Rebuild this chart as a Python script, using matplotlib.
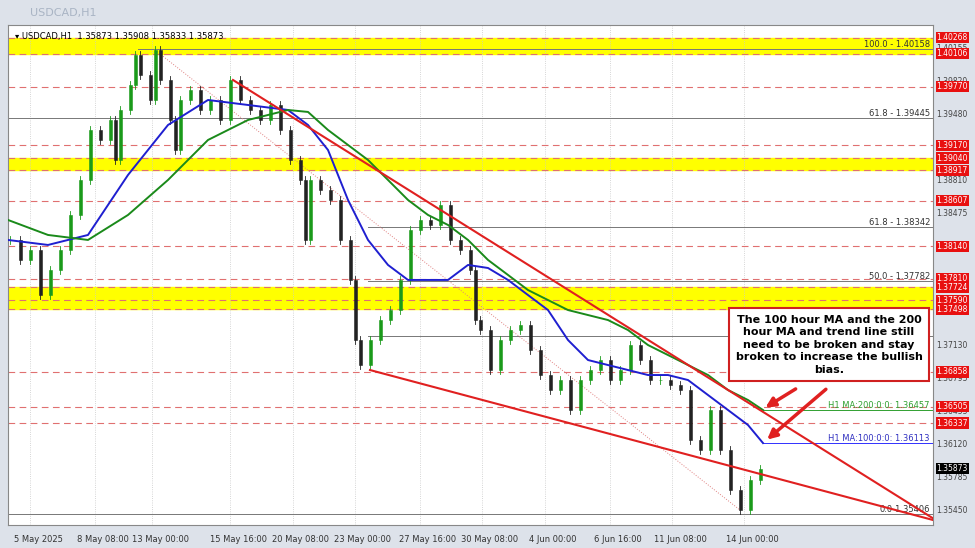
import matplotlib.pyplot as plt
import matplotlib.transforms as mtransforms
from matplotlib.patches import Rectangle, FancyArrowPatch

# hourly bar index (one pixel per hour) and price readings every 10 bars
bar_x = [2, 12, 22, 32, 42, 52, 62, 72, 82, 92, 102, 107, 112, 122, 127, 132, 142, 147, 152,
         162, 167, 172, 182, 192, 202, 212, 222, 232, 242, 252, 262, 272, 282, 292, 297, 302,
         312, 322, 332, 342, 347, 352, 362, 372, 382, 392, 402, 412, 422, 432, 442, 452, 462,
         467, 472, 482, 492, 502, 512, 522, 532, 542, 552, 562, 572, 582, 592, 602, 612, 622,
         632, 642, 652, 662, 672, 682, 692, 702, 712, 722, 732, 742, 752]
closes = [1.38205, 1.38001, 1.38103, 1.37643, 1.37899, 1.38103, 1.38460, 1.38817, 1.39327,
          1.39225, 1.39429, 1.39021, 1.39531, 1.39786, 1.40092, 1.39888, 1.39633, 1.40143,
          1.39837, 1.39429, 1.39123, 1.39633, 1.39735, 1.39531, 1.39633, 1.39429, 1.39837,
          1.39633, 1.39531, 1.39429, 1.39582, 1.39327, 1.39021, 1.38817, 1.38205, 1.38817,
          1.38715, 1.38613, 1.38205, 1.37797, 1.37184, 1.36929, 1.37184, 1.37388, 1.37490,
          1.37797, 1.38307, 1.38409, 1.38358, 1.38562, 1.38205, 1.38103, 1.37899, 1.37388,
          1.37286, 1.36878, 1.37184, 1.37286, 1.37337, 1.37082, 1.36827, 1.36674, 1.36776,
          1.36470, 1.36776, 1.36878, 1.36980, 1.36776, 1.36878, 1.37133, 1.36980, 1.36776,
          1.36776, 1.36725, 1.36674, 1.36164, 1.36062, 1.36470, 1.36062, 1.35654, 1.35450,
          1.35756, 1.35873]

ma_x = [0, 40, 80, 120, 160, 200, 240, 280, 300, 320, 340, 360, 380, 400, 440, 460, 480,
        500, 520, 540, 560, 580, 600, 620, 640, 660, 680, 700, 720, 740, 755]
ma100 = [1.38205, 1.38154, 1.38256, 1.38868, 1.39378, 1.39633, 1.39582, 1.39531, 1.39378,
         1.39123, 1.38613, 1.38205, 1.37950, 1.37797, 1.37797, 1.37950, 1.37919, 1.37797,
         1.37643, 1.37490, 1.37184, 1.36980, 1.36929, 1.36878, 1.36827, 1.36827, 1.36776,
         1.36623, 1.36470, 1.36317, 1.36133]
ma200_x = [0, 40, 80, 120, 160, 200, 240, 280, 300, 320, 340, 360, 380, 400, 420, 440, 460,
           480, 500, 520, 540, 560, 580, 600, 620, 640, 660, 680, 700, 720, 740, 755]
ma200 = [1.38409, 1.38256, 1.38205, 1.38460, 1.38817, 1.39225, 1.39429, 1.39531, 1.39511,
         1.39327, 1.39174, 1.39021, 1.38817, 1.38613, 1.38460, 1.38358, 1.38205, 1.38001,
         1.37848, 1.37694, 1.37592, 1.37490, 1.37439, 1.37388, 1.37286, 1.37133, 1.37031,
         1.36929, 1.36827, 1.36674, 1.36572, 1.36470]

red_levels = [1.40268, 1.40106, 1.39770, 1.39170, 1.39040, 1.38917, 1.38607, 1.38140,
              1.37810, 1.37724, 1.37590, 1.37498, 1.36858, 1.36505, 1.36337]
yellow_bands = [(1.40106, 1.40268), (1.38917, 1.39040), (1.37498, 1.37724)]
fib_levels = [1.40158, 1.39445, 1.38342, 1.37782, 1.37221, 1.35406]
fib_labels = ['100.0 - 1.40158', '61.8 - 1.39445', '61.8 - 1.38342', '50.0 - 1.37782',
              '7221', '0.0-1.35406']
fib_start = [130, 0, 360, 360, 360, 0]
grey_ticks = [1.40155, 1.39820, 1.39480, 1.38810, 1.38475, 1.37130, 1.36795, 1.36455,
              1.36120, 1.35785, 1.35450]
date_pos = [22, 87, 144, 222, 285, 347, 412, 474, 537, 602, 664, 736]
date_labels = ['5 May 2025', '8 May 08:00', '13 May 00:00', '15 May 16:00', '20 May 08:00',
               '23 May 00:00', '27 May 16:00', '30 May 08:00', '4 Jun 00:00', '6 Jun 16:00',
               '11 Jun 08:00', '14 Jun 00:00']
last_price = 1.35873

fig = plt.figure(figsize=(9.75, 5.48), dpi=100, facecolor='#dde2ea')
W, H = 975, 548
ax = fig.add_axes([8 / W, 1 - 525 / H, 925 / W, 500 / H])
ax.set_facecolor('white')
ax.set_xlim(0, 925)
ax.set_ylim(1.35297, 1.40398)
ax.set_xticks([])
ax.set_yticks([])
for s in ax.spines.values():
    s.set_color('#888888')
    s.set_linewidth(0.8)

# title bar and header
fig.text(30 / W, 1 - 13 / H, 'USDCAD,H1', fontsize=8, color='#a9b4c4', va='center')
ax.text(0.008, 0.985, '▾ USDCAD,H1  1.35873 1.35908 1.35833 1.35873', transform=ax.transAxes,
        fontsize=6, va='top', color='black')

for lo, hi in yellow_bands:
    ax.axhspan(lo, hi, color='#ffff00', zorder=0)
for lv in red_levels:
    ax.axhline(lv, color='#e07070', lw=0.8, ls=(0, (6, 4)), zorder=1)
for lv, lab, x0 in zip(fib_levels, fib_labels, fib_start):
    ax.plot([x0, 925], [lv, lv], color='#777777', lw=0.7, zorder=1)
    ax.text(922, lv, lab, fontsize=6, ha='right', va='bottom', color='#333333')
for p in date_pos:
    ax.axvline(p, color='#c8c8c8', lw=0.6, ls=':', zorder=0)

# candles
prev = closes[0]
for x, c in zip(bar_x, closes):
    col = '#1a9a1a' if c >= prev else '#222222'
    lo, hi = min(prev, c), max(prev, c)
    ax.plot([x, x], [lo - 0.0004, hi + 0.0004], color=col, lw=0.6, zorder=2)
    ax.add_patch(Rectangle((x - 1.5, lo), 3, max(hi - lo, 0.00003), facecolor=col,
                           edgecolor=col, lw=0.4, zorder=2))
    prev = c

ax.plot(ma_x, ma100, color='#1f1fd0', lw=1.4, zorder=3)
ax.plot(ma200_x, ma200, color='#1a8a1a', lw=1.4, zorder=3)
ax.plot([755, 925], [ma100[-1]] * 2, color='#3030ff', lw=0.7)
ax.plot([755, 925], [ma200[-1]] * 2, color='#30a030', lw=0.7)
ax.text(922, ma100[-1], 'H1 MA:100:0:0: 1.36113', fontsize=6, ha='right', va='bottom',
        color='#3030c0')
ax.text(922, ma200[-1], 'H1 MA:200:0:0: 1.36457', fontsize=6, ha='right', va='bottom',
        color='#30a030')

# trend lines
ax.plot([225, 925], [1.39837, 1.35365], color='#e02020', lw=1.5, zorder=4)
ax.plot([362, 925], [1.36878, 1.35348], color='#e02020', lw=1.5, zorder=4)
ax.plot([147, 732], [1.40143, 1.35450], color='#e08080', lw=0.7, ls=':', zorder=1)

# annotation
ax.text(821, 1.37135, 'The 100 hour MA and the 200\nhour MA and trend line still\n'
        'need to be broken and stay\nbroken to increase the bullish\nbias.',
        fontsize=8, fontweight='bold', ha='center', va='center', linespacing=1.3, zorder=6,
        bbox=dict(boxstyle='square,pad=0.6', facecolor='white', edgecolor='#d02020', lw=1.5))
for start, end in [((790, 1.36700), (755, 1.36480)), ((820, 1.36700), (757, 1.36150))]:
    ax.add_patch(FancyArrowPatch(start, end, arrowstyle='-|>', mutation_scale=14,
                                 color='#e02020', lw=2.5, zorder=6))

# right price scale
tr = mtransforms.blended_transform_factory(ax.transAxes, ax.transData)
for lv in grey_ticks:
    ax.text(1.004, lv, f'{lv:.5f}', transform=tr, fontsize=5.5, va='center', color='#444444',
            clip_on=False)
for lv in red_levels:
    ax.text(1.004, lv, f'{lv:.5f}', transform=tr, fontsize=5.5, va='center', color='white',
            clip_on=False, bbox=dict(boxstyle='square,pad=0.15', facecolor='#e81010', lw=0))
ax.text(1.004, last_price, f'{last_price:.5f}', transform=tr, fontsize=5.5, va='center',
        color='white', clip_on=False,
        bbox=dict(boxstyle='square,pad=0.15', facecolor='black', lw=0))

trx = mtransforms.blended_transform_factory(ax.transData, ax.transAxes)
for p, lab in zip(date_pos, date_labels):
    ax.text(p + 8, -0.02, lab, transform=trx, fontsize=6, ha='center', va='top',
            color='#333333', clip_on=False)

fig.savefig('out.png', dpi=100, facecolor=fig.get_facecolor())
